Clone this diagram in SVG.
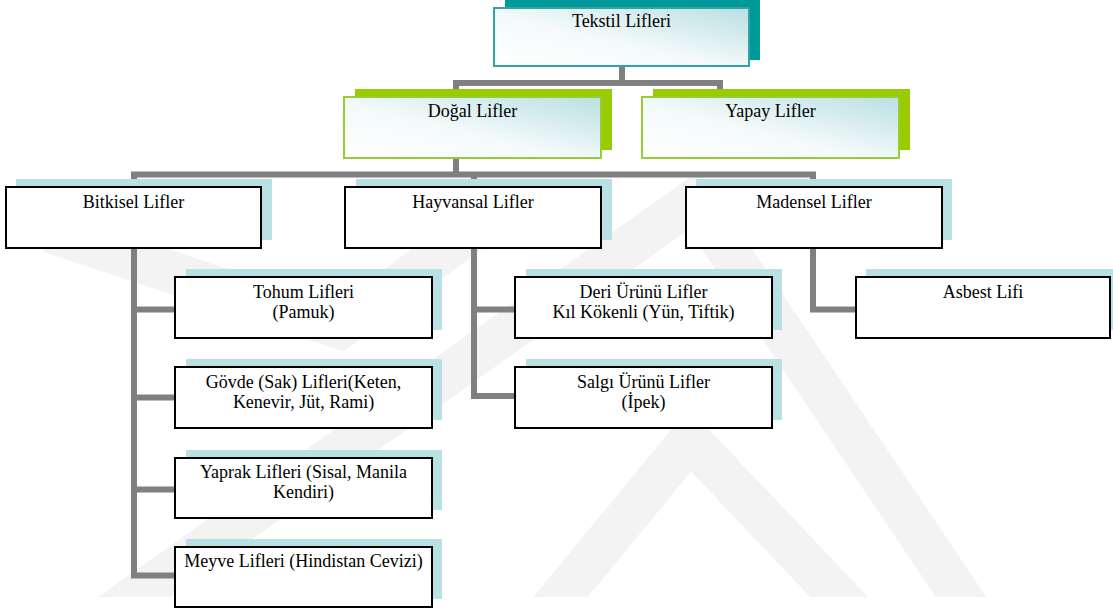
<svg xmlns="http://www.w3.org/2000/svg" width="1113" height="614" viewBox="0 0 1113 614">
<style>
text{font-family:"Liberation Serif","Times New Roman","DejaVu Serif","Noto Serif",serif;font-size:18px;fill:#000;text-anchor:middle}
.conn{fill:none;stroke:#808080;stroke-width:6;stroke-linejoin:miter}
.wm{fill:none;stroke:#f3f3f3;stroke-width:42;stroke-linejoin:miter}
.sh1{fill:#009999}
.sh2{fill:#99cc00}
.sh3{fill:#b9e0e3}
.b1{fill:url(#g);stroke:#33a3a3;stroke-width:2}
.b2{fill:url(#g);stroke:#99cc33;stroke-width:2}
.b3{fill:#fff;stroke:#000;stroke-width:2}
</style>
<defs>
<linearGradient id="g" x1="0" y1="1" x2="1" y2="0">
<stop offset="0" stop-color="#ffffff"/>
<stop offset="0.45" stop-color="#f4fafa"/>
<stop offset="1" stop-color="#b9dfe2"/>
</linearGradient>
<clipPath id="wc"><rect x="0" y="0" width="1113" height="597"/></clipPath>
</defs>
<rect width="1113" height="614" fill="#fff"/>
<g id="watermark" clip-path="url(#wc)">
<polyline class="wm" points="74,640 694,200 990,640"/>
<polyline class="wm" points="525,640 690,440 880,640"/>
<polyline class="wm" points="50,232 340,328 470,232"/>
</g>
<g id="connectors">
<path class="conn" d="M622,67 V83"/>
<path class="conn" d="M456,175 V83 H720 V97"/>
<path class="conn" d="M134,248 V174.5 H813 V248"/>
<path class="conn" d="M474,174.5 V248"/>
<path class="conn" d="M175,575.5 H134 V248"/>
<path class="conn" d="M134,309.5 H175"/>
<path class="conn" d="M134,397.5 H175"/>
<path class="conn" d="M134,489.5 H175"/>
<path class="conn" d="M515,396 H474 V248"/>
<path class="conn" d="M474,309.5 H515"/>
<path class="conn" d="M813,248 V309.5 H856"/>
</g>
<g id="n-tekstil">
<rect class="sh1" x="505" y="0" width="255" height="60"/>
<rect class="b1" x="494" y="8" width="255" height="58"/>
<text x="621.5" y="27">Tekstil Lifleri</text>
</g>
<g id="n-dogal">
<rect class="sh2" x="355" y="89" width="257" height="61"/>
<rect class="b2" x="344" y="97" width="257" height="61"/>
<text x="472.5" y="117">Doğal Lifler</text>
</g>
<g id="n-yapay">
<rect class="sh2" x="653" y="89" width="257" height="61"/>
<rect class="b2" x="642" y="97" width="257" height="61"/>
<text x="770.5" y="117">Yapay Lifler</text>
</g>
<g id="n-bitkisel">
<rect class="sh3" x="16" y="179" width="256" height="61"/>
<rect class="b3" x="6" y="187" width="255" height="61"/>
<text x="133.5" y="208">Bitkisel Lifler</text>
</g>
<g id="n-hayvansal">
<rect class="sh3" x="356" y="179" width="256" height="61"/>
<rect class="b3" x="345" y="187" width="256" height="61"/>
<text x="473" y="208">Hayvansal Lifler</text>
</g>
<g id="n-madensel">
<rect class="sh3" x="696" y="179" width="256" height="61"/>
<rect class="b3" x="686" y="187" width="256" height="61"/>
<text x="814" y="208">Madensel Lifler</text>
</g>
<g id="n-tohum">
<rect class="sh3" x="186" y="269" width="256" height="61"/>
<rect class="b3" x="175" y="277" width="257" height="61"/>
<text x="303.5" y="298">Tohum Lifleri</text>
<text x="303.5" y="318">(Pamuk)</text>
</g>
<g id="n-govde">
<rect class="sh3" x="186" y="359" width="256" height="61"/>
<rect class="b3" x="175" y="367" width="257" height="61"/>
<text x="303.5" y="388">Gövde (Sak) Lifleri(Keten,</text>
<text x="303.5" y="408">Kenevir, Jüt, Rami)</text>
</g>
<g id="n-yaprak">
<rect class="sh3" x="186" y="450" width="256" height="60"/>
<rect class="b3" x="175" y="458" width="257" height="60"/>
<text x="303.5" y="478">Yaprak Lifleri (Sisal, Manila</text>
<text x="303.5" y="498">Kendiri)</text>
</g>
<g id="n-meyve">
<rect class="sh3" x="186" y="539" width="256" height="60"/>
<rect class="b3" x="175" y="547" width="257" height="60"/>
<text x="303.5" y="567">Meyve Lifleri (Hindistan Cevizi)</text>
</g>
<g id="n-deri">
<rect class="sh3" x="526" y="269" width="256" height="61"/>
<rect class="b3" x="515" y="277" width="257" height="61"/>
<text x="643.5" y="298">Deri Ürünü Lifler</text>
<text x="643.5" y="318">Kıl Kökenli (Yün, Tiftik)</text>
</g>
<g id="n-salgi">
<rect class="sh3" x="526" y="359" width="256" height="61"/>
<rect class="b3" x="515" y="367" width="257" height="61"/>
<text x="643.5" y="388">Salgı Ürünü Lifler</text>
<text x="643.5" y="408">(İpek)</text>
</g>
<g id="n-asbest">
<rect class="sh3" x="866" y="269" width="247" height="61"/>
<rect class="b3" x="856" y="277" width="254" height="61"/>
<text x="983" y="298">Asbest Lifi</text>
</g>
</svg>
